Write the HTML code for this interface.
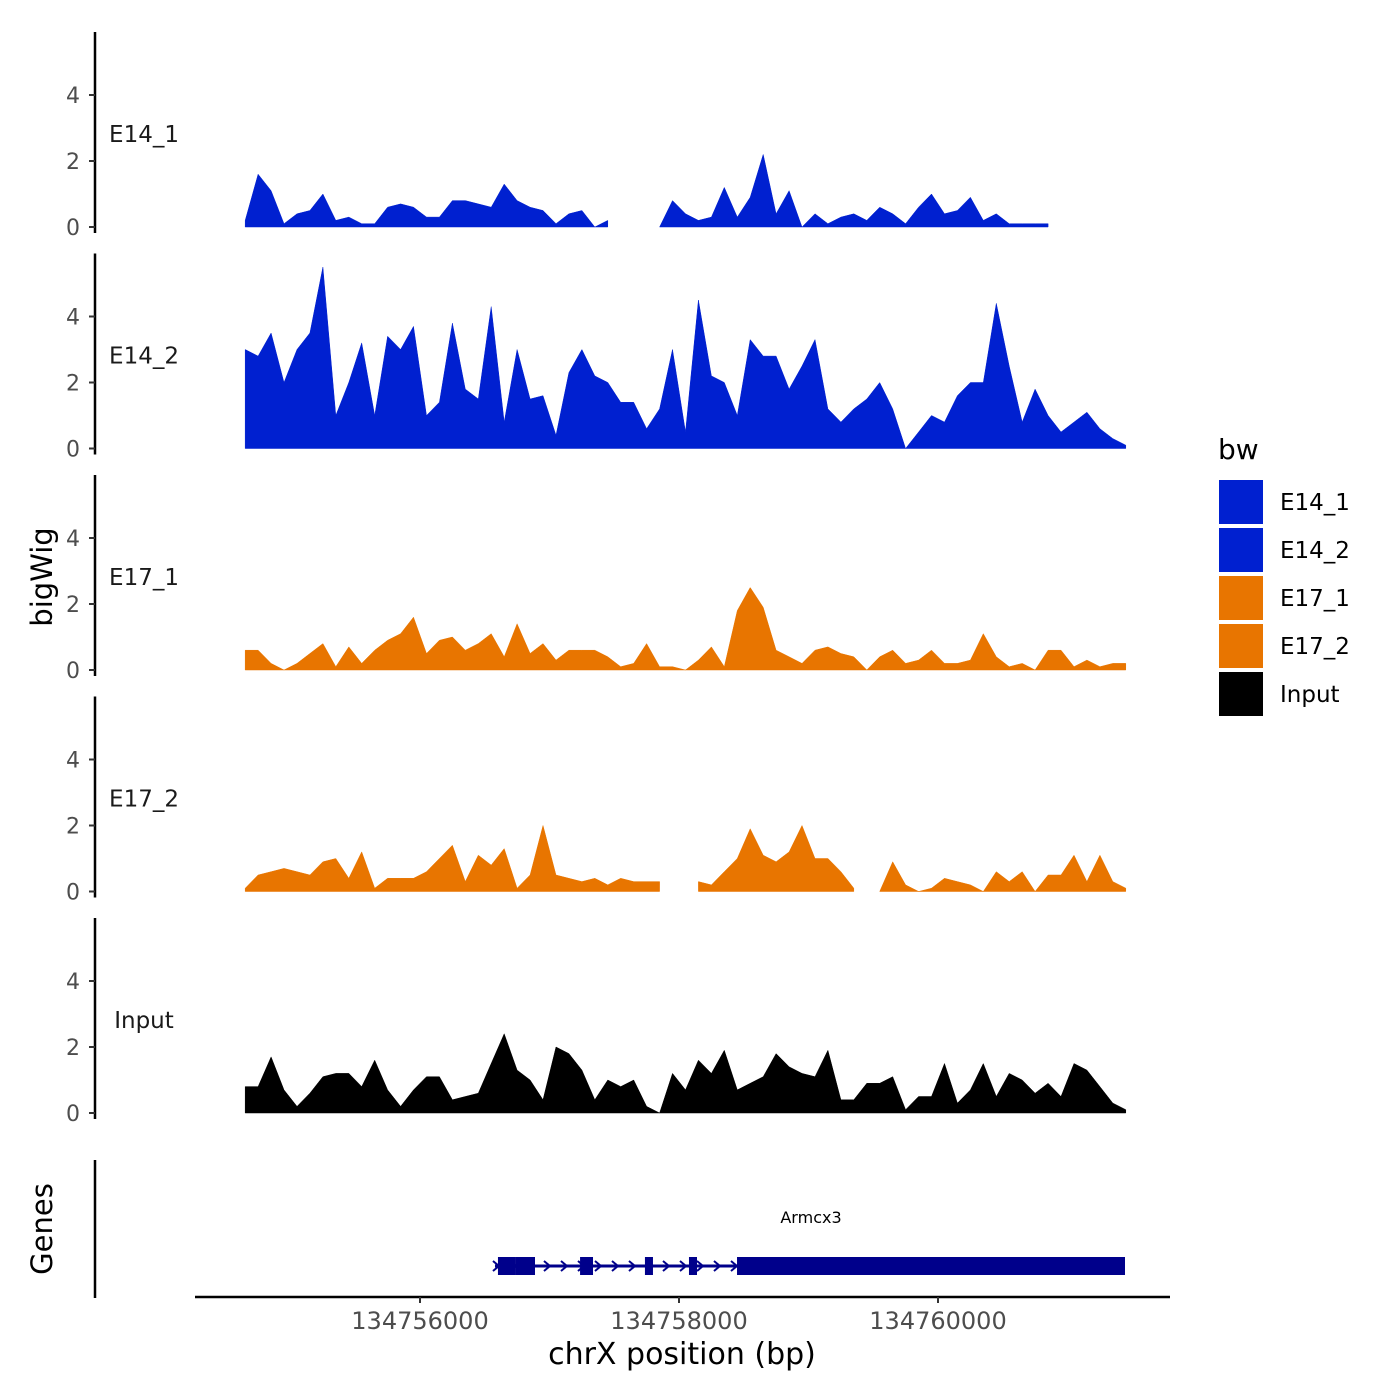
<!DOCTYPE html>
<html><head><meta charset="utf-8"><style>
body{margin:0;background:#fff;}
svg{display:block;font-family:"DejaVu Sans","Liberation Sans",sans-serif;}
</style></head><body>
<svg id="chart" width="1400" height="1400" viewBox="0 0 1400 1400"></svg>
<script>
const trackNames = ["E14_1","E14_2","E17_1","E17_2","Input"];
const trackColors = ["#0020d0","#0020d0","#e87500","#e87500","#000000"];
const startBp = 134754650;
const stepBp = 100;
const yTicks = [0,2,4];
const xTicks = [134756000,134758000,134760000];
const N = null;
const e14_1 = [0.2,1.6,1.1,0.1,0.4,0.5,1.0,0.2,0.3,0.1,0.1,0.6,0.7,0.6,0.3,0.3,0.8,0.8,0.7,0.6,1.3,0.8,0.6,0.5,0.1,0.4,0.5,0,0.2,N,N,N,0,0.8,0.4,0.2,0.3,1.2,0.3,0.9,2.2,0.4,1.1,0,0.4,0.1,0.3,0.4,0.2,0.6,0.4,0.1,0.6,1.0,0.4,0.5,0.9,0.2,0.4,0.1,0.1,0.1,0.1,N,N,N,N,N,N];
const e14_2 = [3.0,2.8,3.5,2.0,3.0,3.5,5.5,1.0,2.0,3.2,1.0,3.4,3.0,3.7,1.0,1.4,3.8,1.8,1.5,4.3,0.8,3.0,1.5,1.6,0.4,2.3,3.0,2.2,2.0,1.4,1.4,0.6,1.2,3.0,0.5,4.5,2.2,2.0,1.0,3.3,2.8,2.8,1.8,2.5,3.3,1.2,0.8,1.2,1.5,2.0,1.2,0,0.5,1.0,0.8,1.6,2.0,2.0,4.4,2.5,0.8,1.8,1.0,0.5,0.8,1.1,0.6,0.3,0.1];
const e17_1 = [0.6,0.6,0.2,0,0.2,0.5,0.8,0.1,0.7,0.2,0.6,0.9,1.1,1.6,0.5,0.9,1.0,0.6,0.8,1.1,0.4,1.4,0.5,0.8,0.3,0.6,0.6,0.6,0.4,0.1,0.2,0.8,0.1,0.1,0,0.3,0.7,0.1,1.8,2.5,1.9,0.6,0.4,0.2,0.6,0.7,0.5,0.4,0,0.4,0.6,0.2,0.3,0.6,0.2,0.2,0.3,1.1,0.4,0.1,0.2,0,0.6,0.6,0.1,0.3,0.1,0.2,0.2];
const e17_2 = [0.1,0.5,0.6,0.7,0.6,0.5,0.9,1.0,0.4,1.2,0.1,0.4,0.4,0.4,0.6,1.0,1.4,0.3,1.1,0.8,1.3,0.1,0.5,2.0,0.5,0.4,0.3,0.4,0.2,0.4,0.3,0.3,0.3,N,N,0.3,0.2,0.6,1.0,1.9,1.1,0.9,1.2,2.0,1.0,1.0,0.6,0.1,N,0,0.9,0.2,0,0.1,0.4,0.3,0.2,0,0.6,0.3,0.6,0,0.5,0.5,1.1,0.3,1.1,0.3,0.1];
const inputVals = [0.8,0.8,1.7,0.7,0.2,0.6,1.1,1.2,1.2,0.8,1.6,0.7,0.2,0.7,1.1,1.1,0.4,0.5,0.6,1.5,2.4,1.3,1.0,0.4,2.0,1.8,1.3,0.4,1.0,0.8,1.0,0.2,0,1.2,0.7,1.6,1.2,1.9,0.7,0.9,1.1,1.8,1.4,1.2,1.1,1.9,0.4,0.4,0.9,0.9,1.1,0.1,0.5,0.5,1.5,0.3,0.7,1.5,0.5,1.2,1.0,0.6,0.9,0.5,1.5,1.3,0.8,0.3,0.1];
const trackData = [e14_1,e14_2,e17_1,e17_2,inputVals];
const geneExons = [[134756602,134756734],[134756734,134756888],[134757236,134757336],[134757737,134757799],[134758077,134758139],[134758448,134761444]];
const geneStart = 134756579, geneEnd = 134761444;

const svg = document.getElementById('chart');
const NS = "http://www.w3.org/2000/svg";
function mk(tag, attrs, parent){const e=document.createElementNS(NS,tag);for(const k in attrs)e.setAttribute(k,attrs[k]);(parent||svg).appendChild(e);return e;}
function xScale(bp){return 420 + (bp-134756000)/2000*259;}
const unit = 33;
function panelBase(p){return 227 + p*221.5;}
function yScale(p,v){return panelBase(p) - v*unit;}

for(let p=0;p<5;p++){
  const g = mk('g',{});
  
  
  const base = panelBase(p);
  const ax = mk('line',{x1:95,x2:95,y1:base-195,y2:base+6,stroke:'#000','stroke-width':2.5},g);
  
  
  yTicks.forEach(t=>{
    const y=yScale(p,t);
    const tk=mk('line',{x1:89,x2:95,y1:y,y2:y,stroke:'#333','stroke-width':2},g);
    
    
    const tl=mk('text',{x:80,y:y+8,'text-anchor':'end','font-size':22,fill:'#4d4d4d'},g);
    tl.textContent=t;
    
    
  });
  const lab=mk('text',{x:144,y:base-85,'text-anchor':'middle','font-size':23,fill:'#1a1a1a'},g);
  lab.textContent=trackNames[p];
  
  
  const vals=trackData[p];
  let seg=[];
  const segs=[];
  vals.forEach((v,i)=>{ if(v===null){ if(seg.length)segs.push(seg); seg=[]; } else seg.push(i); });
  if(seg.length)segs.push(seg);
  segs.forEach(s=>{
    let d='M'+xScale(startBp+s[0]*stepBp)+','+base;
    s.forEach(i=>{d+=' L'+xScale(startBp+i*stepBp).toFixed(1)+','+yScale(p,vals[i]).toFixed(1);});
    d+=' L'+xScale(startBp+s[s.length-1]*stepBp)+','+base+' Z';
    const a=mk('path',{d:d,fill:trackColors[p],'stroke':trackColors[p],'stroke-width':0.5,'stroke-linejoin':'round'},g);
    
    
  });
}

// genes panel
const gg=mk('g',{});


const gax=mk('line',{x1:95,x2:95,y1:1160,y2:1298,stroke:'#000','stroke-width':2.5},gg);


const gl=mk('line',{x1:xScale(geneStart),x2:xScale(geneEnd),y1:1266,y2:1266,stroke:'#00008b','stroke-width':3},gg);


for(let x=xScale(geneStart)+1;x<xScale(geneExons[5][0]);x+=17){
  const ar=mk('path',{d:`M${x-3},${1261} L${x+3},${1266} L${x-3},${1271}`,fill:'none',stroke:'#00008b','stroke-width':2},gg);
  
  
}
geneExons.forEach(e=>{
  const r=mk('rect',{x:xScale(e[0]),y:1257,width:xScale(e[1])-xScale(e[0]),height:18,fill:'#00008b'},gg);
  
  
});
const gn=mk('text',{x:811,y:1223,'text-anchor':'middle','font-size':16,fill:'#000'},gg);
gn.textContent='Armcx3';



// x axis
const xa=mk('line',{x1:195,x2:1170,y1:1297,y2:1297,stroke:'#000','stroke-width':2.5});


xTicks.forEach(t=>{
  const x=xScale(t);
  const tk=mk('line',{x1:x,x2:x,y1:1297,y2:1303,stroke:'#333','stroke-width':2});
  
  
  const tl=mk('text',{x:x,y:1329,'text-anchor':'middle','font-size':24,fill:'#4d4d4d'});
  tl.textContent=t;
  
  
});
const xt=mk('text',{x:682,y:1364,'text-anchor':'middle','font-size':30,fill:'#000'});
xt.textContent='chrX position (bp)';


const yt=mk('text',{x:0,y:0,'text-anchor':'middle','font-size':29,fill:'#000',transform:'translate(52,577) rotate(-90)'});
yt.textContent='bigWig';


const gt=mk('text',{x:0,y:0,'text-anchor':'middle','font-size':29,fill:'#000',transform:'translate(52,1229) rotate(-90)'});
gt.textContent='Genes';



// legend
const lg=mk('g',{});


const ltt=mk('text',{x:1218,y:459,'font-size':28,fill:'#000'},lg);
ltt.textContent='bw';


trackNames.forEach((n,i)=>{
  const y=480+i*48;
  const r=mk('rect',{x:1219,y:y,width:44,height:44,fill:trackColors[i]},lg);
  
  
  const t=mk('text',{x:1280,y:y+30,'font-size':23,fill:'#000'},lg);
  t.textContent=n;
  
  
});
</script>
</body></html>
